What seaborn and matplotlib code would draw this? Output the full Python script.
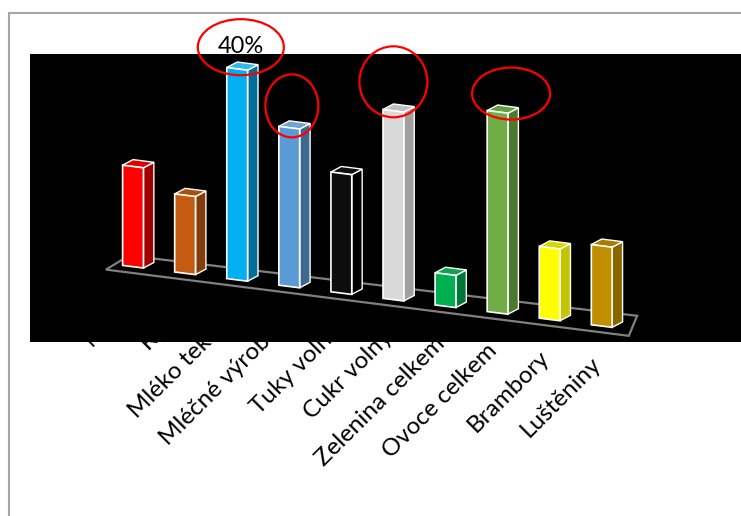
import numpy as np
import matplotlib
matplotlib.use("Agg")
import matplotlib.pyplot as plt
from matplotlib import transforms
from matplotlib.patches import Polygon, Rectangle, Ellipse
from matplotlib.lines import Line2D
import seaborn as sns

# --- data -------------------------------------------------------------
categories = ["Maso", "Ryby", "Mléko tekuté", "Mléčné výrobky", "Tuky volné",
              "Cukr volný", "Zelenina celkem", "Ovoce celkem", "Brambory", "Luštěniny"]
values = [19.0, 14.8, 40.0, 30.1, 22.7, 35.8, 6.1, 38.1, 13.6, 15.2]
highlighted = ["Mléko tekuté", "Mléčné výrobky", "Cukr volný", "Ovoce celkem"]
labelled = "Mléko tekuté"

# --- colours ----------------------------------------------------------
front_colors = ["#FF0000", "#C55A11", "#00B0F0", "#5B9BD5", "#0D0D0D",
                "#D9D9D9", "#00B050", "#70AD47", "#FFFF00", "#BF8F00"]
side_colors = ["#A00000", "#843C0C", "#006E99", "#3D6890", "#000000",
               "#A0A0A0", "#00773A", "#4A7A2E", "#C4C400", "#8A6600"]
top_colors = ["#E00000", "#B04E0E", "#30B8E8", "#6FA3D6", "#101010",
              "#BFBFBF", "#10A050", "#62A03C", "#D8D800", "#A87C00"]

sns.set_theme(style="white")
plt.rcParams["font.family"] = ["Lato", "DejaVu Sans"]

W, H = 741, 516
fig = plt.figure(figsize=(W / 100, H / 100), dpi=100)
fig.patch.set_facecolor("white")

# plot area (black panel)
left, right, top, bottom = 30, 741, 54, 342
ax = fig.add_axes([left / W, 1 - bottom / H, (right - left) / W, (bottom - top) / H])

df = {"cat": categories, "val": values}
sns.barplot(x=df["cat"], y=df["val"], hue=df["cat"], palette=front_colors,
            width=0.4, edgecolor="white", linewidth=1.2, legend=False,
            saturation=1, ax=ax)
bars = [p for p in ax.patches if isinstance(p, Rectangle)]

ax.set_xlim(-1.978, 11.674)
ax.set_ylim(-14.27, 40.32)
ax.set_axis_off()

# floor slopes downward to the right: shear the data space
slope = 1.25
shear = transforms.Affine2D(np.array([[1.0, 0.0, 0.0],
                                      [-slope, 1.0, 0.0],
                                      [0.0, 0.0, 1.0]]))
tr = shear + ax.transData

# 3D faces for each bar
ddx, ddy = 0.2, 1.3
for p in bars:
    x0 = p.get_x()
    w = p.get_width()
    h = p.get_height()
    i = int(round(x0 + w / 2))
    x1 = x0 + w
    side = Polygon([(x1, 0), (x1 + ddx, ddy), (x1 + ddx, h + ddy), (x1, h)],
                   closed=True, facecolor=side_colors[i], edgecolor="white",
                   linewidth=1.0, transform=tr, zorder=2)
    topf = Polygon([(x0, h), (x0 + ddx, h + ddy), (x1 + ddx, h + ddy), (x1, h)],
                   closed=True, facecolor=top_colors[i], edgecolor="white",
                   linewidth=1.0, transform=tr, zorder=2)
    ax.add_patch(side)
    ax.add_patch(topf)
    p.set_transform(tr)
    p.set_zorder(3)

# black panel that hides the upper part of the category labels
ax.add_patch(Rectangle((0, 0), 1, 1, transform=ax.transAxes, facecolor="black",
                       edgecolor="none", zorder=0.6, clip_on=False))

# floor outline
floor = Polygon([(-0.52, -1.2), (-0.08, 2.0), (9.68, 2.8), (9.52, -1.2)],
                closed=True, fill=False, edgecolor="#808080", linewidth=1.6,
                transform=tr, zorder=1)
ax.add_patch(floor)

# category labels along the front of the floor
for i, name in enumerate(categories):
    ax.text(i - 0.08, -6.6, name, transform=tr, rotation=45, rotation_mode="anchor",
            ha="right", va="center", fontsize=17.5, color="black",
            clip_on=False, zorder=0.5)

# value label above the tallest bar
k = categories.index(labelled)
ax.text(k + 0.08, values[k] + 4.3, f"{values[k]:.0f}%", transform=tr,
        ha="center", va="center", fontsize=17, color="black", zorder=4)

# red highlight rings (offset in data units, size in pixels)
ring_offsets = {"Mléko tekuté": (0.07, 4.2), "Mléčné výrobky": (0.05, 4.2),
                "Cukr volný": (0.0, 5.5), "Ovoce celkem": (0.26, 3.8)}
ring_sizes = {"Mléko tekuté": (86, 56), "Mléčné výrobky": (53, 63),
              "Cukr volný": (68, 71), "Ovoce celkem": (78, 52)}
for name in highlighted:
    j = categories.index(name)
    ox, oy = ring_offsets[name]
    rw, rh = ring_sizes[name]
    t = fig.dpi_scale_trans + transforms.ScaledTranslation(j + ox, values[j] + oy, tr)
    ax.add_patch(Ellipse((0, 0), rw / 100, rh / 100, transform=t, fill=False,
                         edgecolor="#FF0000", linewidth=1.6, zorder=5, clip_on=False))

# chart frame
fig.add_artist(Line2D([9 / W, 9 / W], [0, 1 - 13 / H], transform=fig.transFigure,
                      color="#A6A6A6", linewidth=1.5))
fig.add_artist(Line2D([9 / W, 1], [1 - 13 / H, 1 - 13 / H], transform=fig.transFigure,
                      color="#A6A6A6", linewidth=1.5))

fig.savefig("out.png", dpi=100, facecolor="white")
